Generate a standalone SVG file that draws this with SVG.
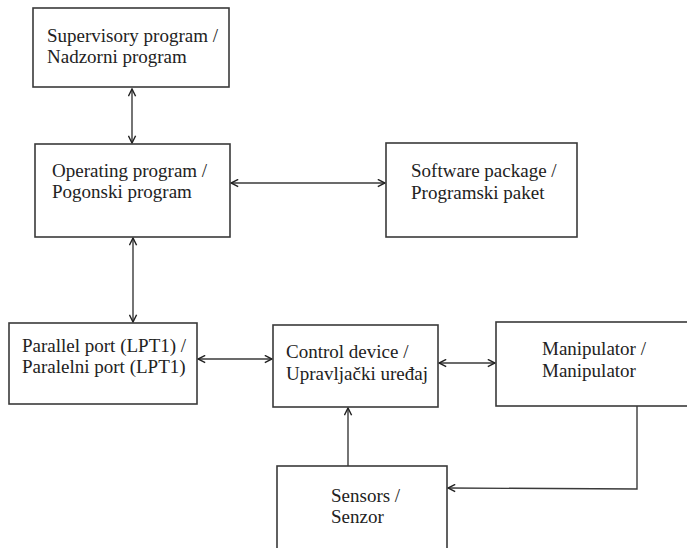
<svg xmlns="http://www.w3.org/2000/svg" width="687" height="548" viewBox="0 0 687 548">
<defs>
<style>
.box{fill:#fff;stroke:#3a3a3a;stroke-width:1.6}
.t{font-family:"Liberation Serif","Times New Roman",serif;font-size:19px;fill:#222}
.c{fill:none;stroke:#3a3a3a;stroke-width:1.4}
</style>
<marker id="ah" viewBox="0 0 10 10" refX="9" refY="5" markerWidth="9" markerHeight="9" markerUnits="userSpaceOnUse" orient="auto-start-reverse">
<path d="M1,1 L9,5 L1,9" fill="none" stroke="#222" stroke-width="1.6"/>
</marker>
</defs>
<rect width="687" height="548" fill="#fff"/>
<g id="connectors">
<line class="c" x1="132" y1="89" x2="132" y2="143" marker-start="url(#ah)" marker-end="url(#ah)"/>
<line class="c" x1="231" y1="183" x2="385" y2="183" marker-start="url(#ah)" marker-end="url(#ah)"/>
<line class="c" x1="133" y1="238" x2="133" y2="322" marker-start="url(#ah)" marker-end="url(#ah)"/>
<line class="c" x1="198" y1="359" x2="272" y2="359" marker-start="url(#ah)" marker-end="url(#ah)"/>
<line class="c" x1="439" y1="363" x2="495" y2="363" marker-start="url(#ah)" marker-end="url(#ah)"/>
<line class="c" x1="348" y1="466" x2="348" y2="408" marker-end="url(#ah)"/>
<polyline class="c" points="637,406 637,489 448,488" marker-end="url(#ah)"/>
</g>
<g id="supervisory">
<rect class="box" x="33" y="8" width="196" height="79"/>
<text class="t" x="47" y="42">Supervisory program /</text>
<text class="t" x="47" y="63">Nadzorni program</text>
</g>
<g id="operating">
<rect class="box" x="35" y="144" width="195" height="93"/>
<text class="t" x="52" y="177">Operating program /</text>
<text class="t" x="52" y="198">Pogonski program</text>
</g>
<g id="software">
<rect class="box" x="386" y="143" width="191" height="94"/>
<text class="t" x="411" y="177">Software package /</text>
<text class="t" x="411" y="199">Programski paket</text>
</g>
<g id="parallel">
<rect class="box" x="9" y="323" width="188" height="81"/>
<text class="t" x="22" y="352">Parallel port (LPT1) /</text>
<text class="t" x="22" y="373">Paralelni port (LPT1)</text>
</g>
<g id="control">
<rect class="box" x="273" y="325" width="165" height="82"/>
<text class="t" x="286" y="358">Control device /</text>
<text class="t" x="286" y="380">Upravljački uređaj</text>
</g>
<g id="manipulator">
<rect class="box" x="496" y="322" width="196" height="84"/>
<text class="t" x="542" y="355">Manipulator /</text>
<text class="t" x="542" y="377">Manipulator</text>
</g>
<g id="sensors">
<rect class="box" x="277" y="466" width="170" height="90"/>
<text class="t" x="331" y="502">Sensors /</text>
<text class="t" x="331" y="523">Senzor</text>
</g>
</svg>
